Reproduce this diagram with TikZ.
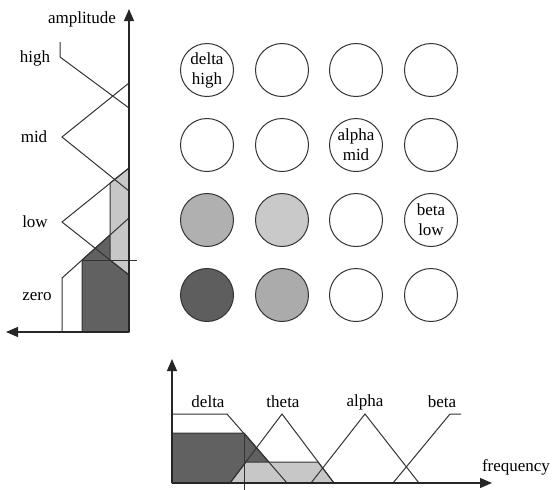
\documentclass[tikz,border=0pt]{standalone}
\usepackage{fontspec}
\setmainfont{Liberation Serif}
\usetikzlibrary{arrows.meta}

\begin{document}
\begin{tikzpicture}[x=0.5pt,y=-0.5pt,
  every node/.style={font=\fontsize{8.5}{10}\selectfont},
  cell/.style={circle,draw=black!80,line width=0.5pt,minimum size=26.5pt,inner sep=0pt,align=center},
  curve/.style={draw=black!80,line width=0.5pt},
  axis/.style={-{Triangle[length=6pt,width=5pt]},draw=black!85,line width=0.6pt}]
\useasboundingbox (0,0) rectangle (553,489);
% \draw[help lines,step=50] (0,0) grid (553,489);
%
% amplitude memberships
\coordinate (ao) at (129,332);
\coordinate (atop) at (129,9);
\coordinate (aleft) at (6,332);
\filldraw[curve,fill=black!62] (82,332) -- (82,260) -- (129,218) -- (129,332) -- cycle;
\filldraw[curve,fill=black!22] (110,183) -- (129,168) -- (129,275) -- (110,260) -- cycle;
\draw[curve] (60,42) -- (60,57) -- (129,108);
\draw[curve] (129,83) -- (62,137) -- (129,191);
\draw[curve] (129,168) -- (62,222) -- (129,275);
\draw[curve] (62,332) -- (62,278) -- (129,218);
\coordinate (ampin) at (82,260);
\coordinate (ampcut) at (137,260);
\draw[curve] (ampin) -- (ampcut);
\draw[axis] (ao) -- (atop);
\draw[axis] (ao) -- (aleft);
\node (amplitude) at (82,19) {amplitude};
\node (high) at (35,58) {high};
\node (mid) at (34,137) {mid};
\node (low) at (35,222) {low};
\node (zero) at (37,297) {zero};
%
% rule cells
\node (deltahigh) [cell] at (207,70) {delta\\high};
\node (thetahigh) [cell] at (282,70) {};
\node (alphahigh) [cell] at (356,70) {};
\node (betahigh) [cell] at (431,70) {};
\node (deltamid) [cell] at (207,145) {};
\node (thetamid) [cell] at (282,145) {};
\node (alphamid) [cell] at (356,145) {alpha\\mid};
\node (betamid) [cell] at (431,145) {};
\node (deltalow) [cell,fill=black!31] at (207,220) {};
\node (thetalow) [cell,fill=black!21] at (282,220) {};
\node (alphalow) [cell] at (356,220) {};
\node (betalow) [cell] at (431,220) {beta\\low};
\node (deltazero) [cell,fill=black!63] at (207,295) {};
\node (thetazero) [cell,fill=black!33] at (282,295) {};
\node (alphazero) [cell] at (356,295) {};
\node (betazero) [cell] at (431,295) {};
%
% frequency memberships
\coordinate (fo) at (172,483);
\coordinate (ftop) at (172,359);
\coordinate (fright) at (492,483);
\filldraw[curve,fill=black!62] (172,483) -- (172,433) -- (244,433) -- (287,483) -- cycle;
\filldraw[curve,fill=black!22] (230,483) -- (246,462) -- (318,462) -- (334,483) -- cycle;
\draw[curve] (172,414) -- (227,414) -- (287,483);
\draw[curve] (230,483) -- (282,414) -- (334,483);
\draw[curve] (311,483) -- (365,414) -- (419,483);
\draw[curve] (393,483) -- (450,414) -- (461,414);
\coordinate (freqin) at (244,433);
\coordinate (freqcut) at (244,490);
\draw[curve] (freqin) -- (freqcut);
\draw[axis] (fo) -- (ftop);
\draw[axis] (fo) -- (fright);
\node (delta) at (208,402) {delta};
\node (theta) at (283,402) {theta};
\node (alpha) at (365,402) {alpha};
\node (beta) at (442,402) {beta};
\node (frequency) at (516,467) {frequency};
\end{tikzpicture}
\end{document}
